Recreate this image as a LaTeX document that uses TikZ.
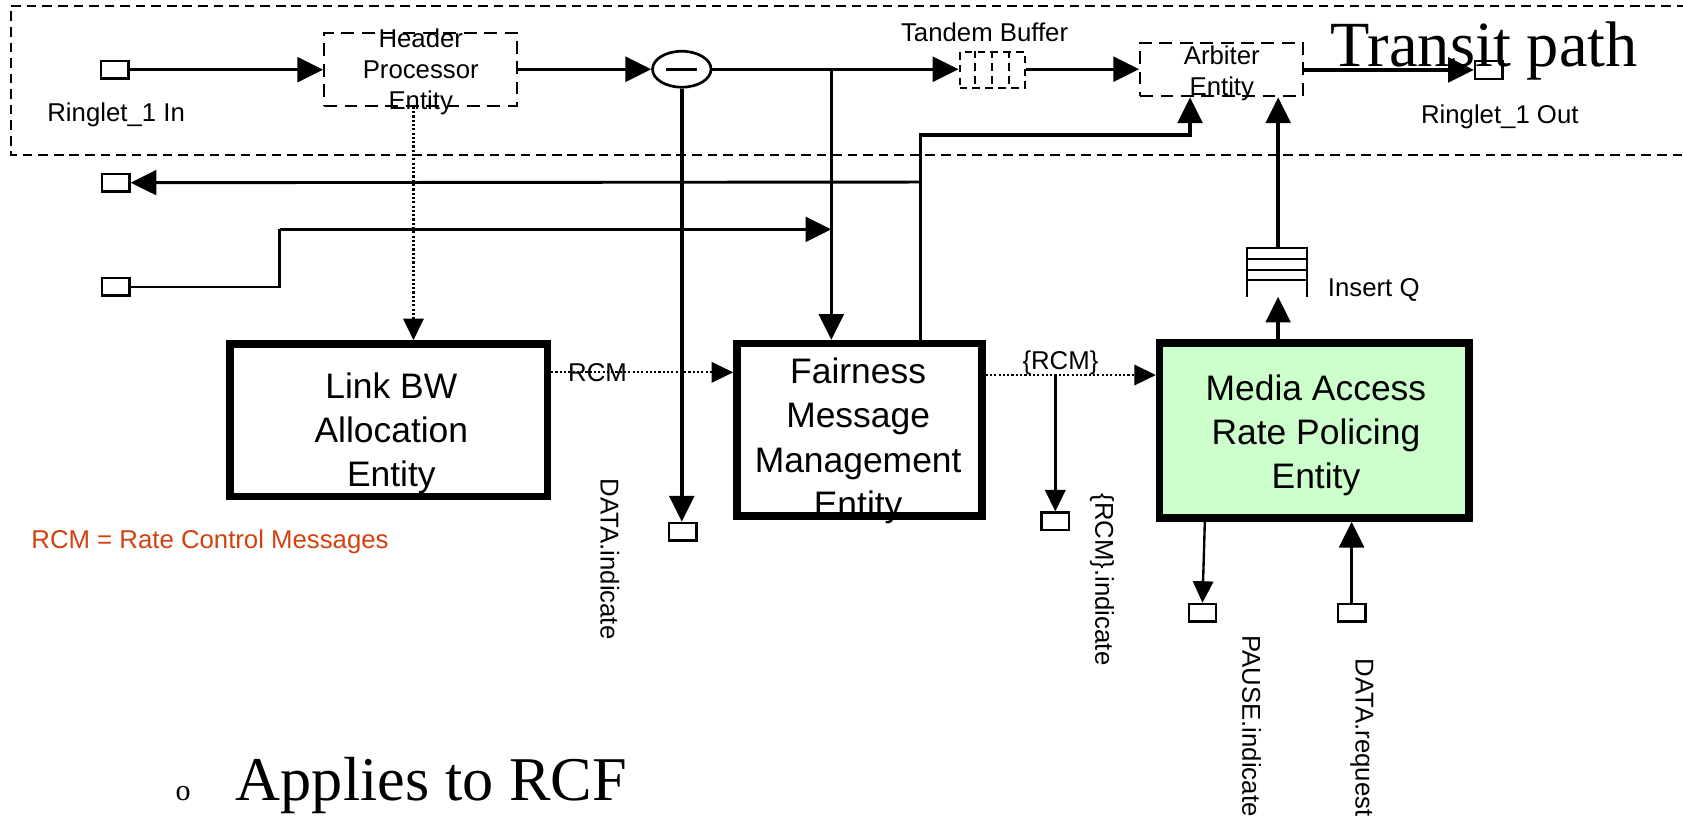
\documentclass[tikz,border=0pt]{standalone}
\usepackage{fontspec}
\setmainfont{Liberation Sans}
\newfontfamily\serifface{Liberation Serif}
\usetikzlibrary{arrows.meta,calc,shapes.geometric}
\definecolor{rcmred}{RGB}{210,65,15}
\definecolor{margreen}{HTML}{CCFFCC}
\begin{document}
\begin{tikzpicture}[x=1pt,y=-1pt,
  thickln/.style={line width=3.2pt},
  thinln/.style={line width=2.2pt},
  bigarrow/.style={-{Triangle[length=24pt,width=23pt]}},
  smallarrow/.style={-{Triangle[length=20pt,width=19pt]}},
  dotln/.style={line width=2pt, dash pattern=on 2pt off 2pt},
  port/.style={draw, line width=2.2pt, minimum width=25.5pt, minimum height=16.5pt, inner sep=0pt, fill=white},
  entity/.style={draw, line width=7pt, inner sep=0pt},
  dashbox/.style={draw, line width=2pt, dash pattern=on 12pt off 7pt, inner sep=0pt},
  lbl/.style={inner sep=0pt, font=\fontsize{24}{28.8}\selectfont},
  boxtxt/.style={inner sep=0pt, align=center, font=\fontsize{33}{41.2}\selectfont},
  smalltxt/.style={inner sep=0pt, align=center, font=\fontsize{24}{29}\selectfont},
  bigserif/.style={inner sep=0pt, font=\serifface\fontsize{60}{72}\selectfont},
]
\useasboundingbox (0,0) rectangle (1568,771);

% transit path region
\draw[line width=1.5pt, dash pattern=on 9pt off 5.5pt] (1600,5.6) -- (10,5.6) -- (10,144.4) -- (1600,144.4);

% helper coordinates
\coordinate (xdot) at (385.2,0);
\coordinate (xbr) at (774.5,0);
\coordinate (xfo) at (857.8,0);
\coordinate (xal) at (1108.7,0);
\coordinate (xar) at (1190.8,0);
\coordinate (xrb) at (983.2,0);
\coordinate (xpa) at (1122.5,0);
\coordinate (yrcmA) at (0,346.9);
\coordinate (yrcmB) at (0,349.4);
\coordinate (ytop) at (0,125.8);
\coordinate (yleft) at (0,169.6);
\coordinate (jin) at (260.5,213.7);

% boxes
\node[dashbox, minimum width=179.5pt, minimum height=68pt] (hdr) at (391.8,64.5) {};
\node[draw, ellipse, line width=2.5pt, minimum width=54.5pt, minimum height=33.5pt, inner sep=0pt] (ell) at (635.2,64.5) {};
\node[dashbox, dash pattern=on 7pt off 5pt, minimum width=61pt, minimum height=33.7pt] (tb) at (924.5,65) {};
\node[dashbox, minimum width=151.5pt, minimum height=50pt] (arb) at (1138,64.7) {};
\node[entity, minimum width=295.4pt, minimum height=142.1pt] (lbw) at (362.2,391.4) {};
\node[entity, minimum width=228.3pt, minimum height=160.7pt] (fmm) at (800.7,400.6) {};
\node[entity, fill=margreen, minimum width=288.3pt, minimum height=163pt] (mar) at (1224.5,401.1) {};
\node[minimum width=56pt, minimum height=45.6pt, inner sep=0pt, outer sep=0pt] (insq) at (1189.5,253.6) {};

% minus sign and buffer compartments
\draw[line width=2.5pt] ([xshift=-14.6pt]ell.center) -- ([xshift=14.6pt]ell.center);
\foreach \f in {0.25,0.5,0.75}
  \draw[line width=2pt, dash pattern=on 7pt off 5pt] ($(tb.north west)!\f!(tb.north east)$) -- ($(tb.south west)!\f!(tb.south east)$);

% insert queue
\draw[line width=2pt] (insq.south west) -- (insq.north west) -- (insq.north east) -- (insq.south east);
\foreach \f in {0.23,0.456,0.66}
  \draw[line width=2pt] ($(insq.north west)!\f!(insq.south west)$) -- ($(insq.north east)!\f!(insq.south east)$);

% connectors
\draw[thickln, bigarrow] (hdr.east |- ell.west) -- (ell.west);
\draw[thickln, bigarrow] (ell.east) -- (tb.west |- ell.east);
\draw[thickln, bigarrow] (tb.east |- ell.east) -- (arb.west |- ell.east);
\draw[thickln, bigarrow] (ell.east -| xbr) -- (fmm.north -| xbr);
\draw[dotln, smallarrow] (hdr.south -| xdot) -- (lbw.north -| xdot);
\draw[dotln, smallarrow] (lbw.east |- yrcmA) -- (fmm.west |- yrcmA);
\draw[dotln, smallarrow] (fmm.east |- yrcmB) -- (mar.west |- yrcmB);
\draw[thickln, bigarrow] (fmm.north -| xfo) |- (xal |- ytop) -- (arb.south -| xal);
\draw[thickln, bigarrow] (mar.north -| xar) -- (insq.south -| xar);
\draw[thickln, bigarrow] (insq.north -| xar) -- (arb.south -| xar);

% ports
\node[port] (pin) at (106.8,64.9) {};
\node[port] (p2) at (107.8,170.2) {};
\node[port] (p3) at (107.8,267.1) {};
\node[port] (pout) at (1387,65.2) {};
\node[port] (pdi) at (636,495.4) {};
\node[port] (prcm) at (983.2,485.8) {};
\node[port] (ppause) at (1120.3,570.9) {};
\node[port] (preq) at (1259.3,570.9) {};

\draw[thickln, bigarrow] (pin.east) -- (pin.east -| hdr.west);
\draw[thickln, bigarrow] (arb.east |- pout.west) -- (pout.west);
\draw[thickln, bigarrow] (ell.south) -- (pdi.north -| ell.south);
\draw[line width=2.7pt, bigarrow] (xfo |- yleft) -- (p2.east);
\draw[thinln] (p3.east) -| (jin);
\draw[thickln, bigarrow] (jin) -- (jin -| xbr);
\draw[thinln, smallarrow] (xrb |- yrcmB) -- (prcm.north);
\draw[thinln, smallarrow] (mar.south -| xpa) -- (ppause.north);
\draw[thickln, bigarrow] (preq.north) -- (mar.south -| preq.north);

% texts
\node[smalltxt] (hdrt) at (392,67.2) {Header\\Processor\\Entity};
\node[smalltxt] (arbt) at (1138.3,68.2) {Arbiter\\Entity};
\node[boxtxt] (lbwt) at (364.6,403.8) {Link BW\\Allocation\\Entity};
\node[boxtxt, font=\fontsize{33}{41.5}\selectfont] (fmmt) at (799.5,410.8) {Fairness\\Message\\Management\\Entity};
\node[boxtxt] (mart) at (1226,405.5) {Media Access\\Rate Policing\\Entity};

\node[lbl, anchor=base] (lin) at (108.2,113.4) {Ringlet\_1 In};
\node[lbl, anchor=base] (lout) at (1397.3,115) {Ringlet\_1 Out};
\node[lbl, anchor=base] (ltb) at (917.3,38.8) {Tandem Buffer};
\node[bigserif, anchor=base west] (ltp) at (1239.6,62.4) {Transit path};
\node[lbl, anchor=base west] (liq) at (1237,276.4) {Insert Q};
\node[lbl, anchor=base] (lrcm) at (556.7,355.6) {RCM};
\node[lbl, anchor=base] (lrcm2) at (988,344.7) {\{RCM\}};
\node[lbl, anchor=base west, text=rcmred] (legend) at (29.1,510.9) {RCM = Rate Control Messages};
\node[lbl, anchor=base west, rotate=-90] (ldi) at (559.5,445.7) {DATA.indicate};
\node[lbl, anchor=base west, rotate=-90] (lri) at (1020.5,459.6) {\{RCM\}.indicate};
\node[lbl, anchor=base west, rotate=-90] (lpi) at (1157.5,591.6) {PAUSE.indicate};
\node[lbl, anchor=base west, rotate=-90] (ldr) at (1263,613.4) {DATA.request};
\node[inner sep=0pt, anchor=base west, font=\serifface\fontsize{28}{30}\selectfont] (bul) at (163.5,745.4) {o};
\node[inner sep=0pt, anchor=base west, font=\serifface\fontsize{58}{70}\selectfont] (app) at (219.6,745.4) {Applies to RCF};
\end{tikzpicture}
\end{document}
